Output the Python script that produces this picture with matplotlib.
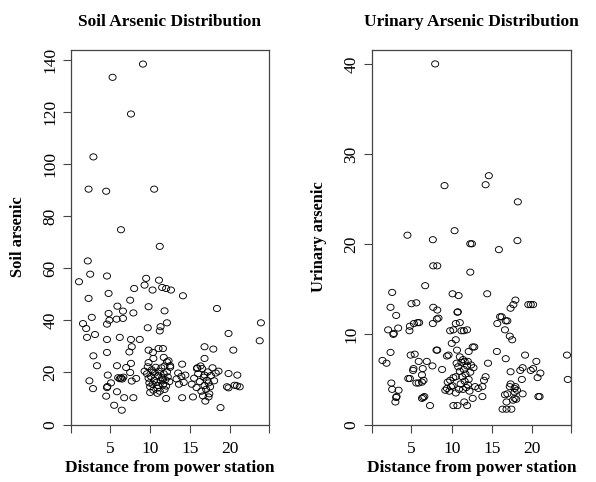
import numpy as np
import matplotlib.pyplot as plt
from matplotlib.path import Path

plt.rcParams['font.family'] = ['Liberation Serif', 'DejaVu Serif']

# Soil arsenic vs distance
soil_dist = [
    9.1, 5.3, 7.6, 2.9, 2.3, 4.5, 10.5, 6.35, 11.2,
    1.1, 2.2, 2.5, 4.6, 2.3, 4.8, 9.5, 9.3, 11.1, 10.3, 11.5, 12.0, 12.6, 14.1,
    8.0, 7.5, 18.35, 5.9, 6.6, 7.9, 4.8, 2.7, 5.8, 4.9, 6.6, 11.8, 9.8, 4.6,
    1.6, 2.0, 3.1, 2.1, 9.7, 11.3, 11.2, 12.1, 23.85, 23.7, 19.8, 6.2, 4.6,
    7.6, 8.7, 7.7, 7.4, 16.8, 17.9, 20.4, 9.8, 10.35, 11.05, 11.6, 4.6, 2.9,
    16.8, 10.4, 11.7, 3.35, 5.85, 7.6, 7.0, 14.0, 9.8, 12.1, 12.5, 7.5, 9.3,
    4.7, 15.85, 18.55, 20.9, 19.8, 16.8, 2.4, 2.85, 4.6, 7.7, 8.25, 4.5, 5.85,
    6.75, 7.9, 5.5, 6.45, 18.8, 14.0, 12.0, 15.35, 16.9, 17.3, 19.6, 19.8,
    20.55, 20.85, 21.2, 4.65, 5.1,
    9.6, 9.8, 9.9, 10.0, 10.1, 10.2, 10.3, 10.4, 10.5, 10.6, 10.7, 10.8, 10.9,
    11.0, 11.1, 11.2, 11.3, 11.4, 11.5, 11.6, 11.7, 11.8, 11.9, 12.0, 12.1,
    12.2, 10.4, 11.0, 11.6, 10.0, 10.9, 11.8, 12.4, 9.7,
    15.2, 15.5, 15.8, 16.0, 16.2, 16.4, 16.5, 16.7, 16.8, 17.0, 17.1, 17.2,
    17.3, 17.5, 17.6, 17.8, 18.0, 18.2, 16.3, 17.4, 16.6,
    6.0, 6.2, 6.35, 6.5, 6.65,
    13.3, 13.6, 13.9, 14.2, 14.4, 13.5, 12.3, 12.5, 15.9,
]
soil_as = [
    138.6, 133.5, 119.4, 102.9, 90.5, 89.7, 90.5, 74.9, 68.5,
    54.9, 62.9, 57.8, 57.1, 48.5, 50.4, 56.2, 53.6, 55.5, 51.7, 52.7, 52.3, 51.7, 49.5,
    52.3, 47.8, 44.6, 45.5, 43.6, 42.9, 42.7, 41.2, 40.5, 40.1, 40.8, 43.7, 45.3, 38.6,
    38.8, 36.9, 34.6, 33.5, 37.2, 37.6, 36.0, 39.1, 39.1, 32.2, 35.0, 33.5, 32.7,
    32.7, 32.7, 29.9, 27.9, 29.9, 29.0, 28.6, 28.6, 27.7, 29.2, 29.2, 27.7, 26.4,
    25.4, 25.4, 25.8, 22.6, 22.6, 23.5, 21.9, 23.2, 23.8, 24.1, 22.6, 20.0, 20.5,
    19.0, 21.5, 20.5, 19.0, 19.6, 19.0, 16.8, 13.8, 14.2, 16.7, 17.7, 10.9, 12.6,
    10.3, 10.3, 7.4, 5.5, 6.5, 10.3, 10.0, 10.6, 9.0, 10.6, 14.5, 14.1,
    15.1, 14.9, 14.5, 14.6, 16.0,
    19.5, 17.8, 16.0, 14.5, 18.5, 21.0, 15.5, 13.2, 17.0, 19.8, 22.0, 16.2, 14.0,
    18.8, 20.5, 12.8, 16.8, 21.8, 18.0, 15.2, 19.5, 22.5, 17.2, 14.8, 20.2,
    18.3, 20.2, 15.0, 17.5, 12.3, 12.0, 13.5, 16.5, 22.2,
    15.5, 17.8, 14.2, 19.5, 16.5, 12.8, 21.5, 18.2, 15.0, 13.5, 17.0, 20.2,
    16.0, 14.5, 18.8, 21.8, 16.8, 19.8, 22.5, 11.8, 11.0,
    18.0, 17.6, 17.9, 17.5, 18.2,
    17.5, 15.5, 18.5, 16.2, 19.0, 19.8, 24.5, 22.0, 21.8,
]

# Urinary arsenic vs distance
urine_dist = [
    7.94, 9.1, 14.2, 14.6, 18.2, 4.5, 10.35, 7.65, 12.3, 12.5, 18.15, 15.85,
    7.7, 8.2, 12.3, 6.7, 2.6, 10.1, 10.85, 14.4, 17.9, 17.65, 5.0, 5.6, 2.4,
    3.1, 7.7, 8.2, 19.5, 19.8, 20.1, 17.3, 10.7, 10.75, 8.15, 8.35, 7.65, 5.75,
    5.95, 5.3, 3.35, 2.1, 4.75, 4.8, 2.75, 2.8, 10.5, 11.0, 11.2, 11.5, 11.9,
    9.8, 10.2, 16.0, 16.2, 16.7, 16.9, 15.65, 16.6, 17.2, 17.5, 10.0, 10.5,
    15.6, 12.1, 8.1, 8.2, 10.65, 9.4, 9.6, 12.6, 12.8, 2.4, 1.4, 1.9, 4.9,
    5.4, 5.9, 6.9, 7.6, 6.4, 8.8, 16.7, 19.1, 20.5, 24.3, 18.5, 18.8, 19.8,
    20.1, 21.0, 20.65, 17.3, 24.4, 18.7, 5.2, 5.25, 4.6, 4.8, 5.6, 5.9, 6.3,
    6.3, 6.5, 2.5, 2.6, 3.4, 3.1, 3.15, 3.0, 6.3, 6.45, 6.6, 7.3, 9.5, 9.8,
    10.2, 10.5, 10.5, 10.2, 10.7, 11.55, 11.9, 12.6, 13.8, 13.8, 14.0, 14.2,
    14.5, 16.3, 16.8, 17.4, 16.6, 16.9, 16.8, 17.2, 17.3, 17.8, 17.9, 18.1,
    17.8, 17.6, 17.8, 18.0, 20.75, 20.9, 18.8,
    10.6, 10.8, 11.0, 11.2, 11.3, 11.5, 11.6, 11.7, 11.9, 12.0, 12.1, 12.3,
    11.1, 11.4, 11.8, 12.2, 10.9, 11.6, 12.4, 12.7, 12.9, 13.3, 11.0, 11.4,
    12.0, 9.4, 9.7, 9.9, 10.1, 9.2,
]
urine_as = [
    40.0, 26.5, 26.6, 27.6, 24.7, 21.0, 21.5, 20.5, 20.05, 20.05, 20.4, 19.4,
    17.6, 17.6, 16.9, 15.4, 14.65, 14.5, 14.3, 14.5, 13.8, 13.3, 13.4, 13.5, 13.0,
    12.1, 13.0, 12.7, 13.3, 13.3, 13.3, 12.9, 12.45, 12.5, 11.7, 11.8, 11.2, 11.3,
    11.3, 11.2, 10.7, 10.5, 10.4, 10.9, 10.0, 10.1, 11.2, 11.3, 10.4, 10.4, 10.5,
    10.4, 10.5, 11.95, 11.95, 11.5, 11.5, 11.2, 10.5, 9.8, 9.4, 9.0, 9.4,
    8.1, 8.1, 8.25, 8.25, 8.25, 7.6, 7.7, 8.6, 8.6, 8.0, 7.1, 6.8, 7.7,
    7.8, 7.0, 7.0, 6.5, 6.2, 6.1, 7.3, 7.7, 7.0, 7.7, 6.0, 6.3, 6.0,
    6.2, 5.7, 5.2, 5.85, 5.0, 5.0, 6.0, 6.2, 5.1, 5.1, 4.6, 4.6, 5.5,
    4.7, 4.9, 4.6, 3.9, 3.8, 3.0, 3.1, 2.5, 2.9, 3.0, 3.1, 2.1, 4.7, 4.9,
    5.2, 5.3, 3.5, 2.1, 2.1, 2.5, 2.1, 2.9, 3.1, 4.2, 4.9, 5.3,
    6.8, 1.7, 1.7, 1.7, 3.3, 3.4, 2.5, 4.2, 4.5, 3.6, 4.2, 3.8,
    2.9, 2.7, 4.0, 2.8, 3.1, 3.1, 3.4,
    6.8, 6.4, 5.9, 6.9, 5.3, 6.1, 4.8, 5.6, 6.5, 4.4, 5.0, 5.8,
    4.5, 3.9, 4.1, 3.7, 3.9, 7.0, 6.6, 6.3, 4.2, 4.0, 7.5, 7.2,
    7.0, 4.0, 3.7, 4.2, 4.3, 3.8,
]

fig = plt.figure(figsize=(5.96, 4.82), dpi=100)
W, H = 596, 482

# the reference is slightly stretched sideways, so the circles are a bit wide
circ = Path.unit_circle()
ellipse = Path(circ.vertices * [1.15, 1.0], circ.codes)

panels = [
    (soil_dist, soil_as, 'Soil Arsenic Distribution', 'Soil arsenic',
     [71, 268.5], (0, 144.2), [0, 20, 40, 60, 80, 100, 120, 140]),
    (urine_dist, urine_as, 'Urinary Arsenic Distribution', 'Urinary arsenic',
     [372, 571], (0, 41.6), [0, 10, 20, 30, 40]),
]

for xs, ys, title, ylabel, (x0, x1), ylim, yticks in panels:
    ax = fig.add_axes([x0 / W, 1 - 424.5 / H, (x1 - x0) / W, (424.5 - 49.5) / H])
    ax.scatter(xs, ys, s=26, marker=ellipse, facecolors='none',
               edgecolors='black', linewidths=0.65)
    ax.set_xlim(0.1, 24.8)
    ax.set_ylim(*ylim)
    ax.set_xticks([5, 10, 15, 20])
    ax.set_xticks([0.1, 24.8], minor=True)
    ax.set_yticks(yticks)
    ax.set_yticklabels([str(t) for t in yticks], rotation=90, va='center')
    ax.tick_params(axis='both', which='both', direction='out', length=6,
                   width=0.8, color='#444444', labelsize=12.5, pad=3)
    ax.tick_params(axis='x', which='major', pad=6)
    for sp in ax.spines.values():
        sp.set_color('#444444')
        sp.set_linewidth(0.9)
    ax.set_title(title, fontsize=12.5, fontweight='bold', pad=17)
    ax.set_xlabel('Distance from power station', fontsize=12.5,
                  fontweight='bold', labelpad=2)
    ax.set_ylabel(ylabel, fontsize=11.8, fontweight='bold', labelpad=12)

fig.savefig('out.png', dpi=100)
